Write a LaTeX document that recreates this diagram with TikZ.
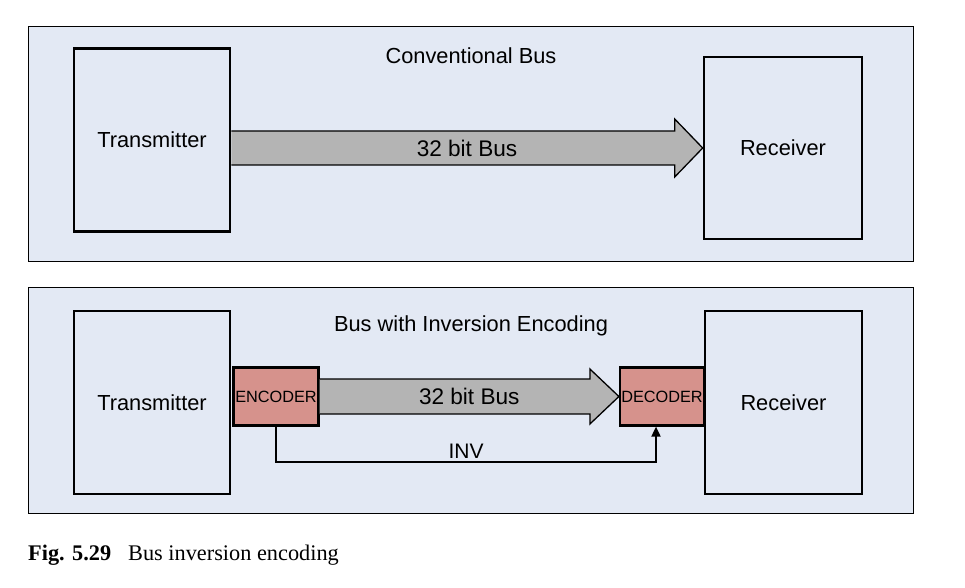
\documentclass[tikz,border=0pt]{standalone}
\usepackage{fontspec}
\setmainfont{Liberation Serif}
\setsansfont{Liberation Sans}
\usetikzlibrary{calc,arrows.meta}
\definecolor{panelbg}{RGB}{227,233,244}
\definecolor{busgray}{RGB}{180,180,180}
\definecolor{codecred}{RGB}{214,146,140}
\begin{document}
\begin{tikzpicture}[x=1pt,y=-1pt,
  panel/.style={draw,line width=.8pt,fill=panelbg},
  unit/.style={draw,line width=2.6pt,minimum width=156pt,minimum height=183pt,inner sep=0pt,font=\sffamily\fontsize{21.8}{25}\selectfont},
  codecbox/.style={draw,line width=2.2pt,fill=codecred,minimum width=85pt,minimum height=58pt,inner sep=0pt,font=\sffamily\fontsize{16.3}{18}\selectfont},
  bus/.style={draw,line width=1.3pt,fill=busgray,line join=miter},
  lbl/.style={font=\sffamily\fontsize{21.8}{25}\selectfont},
  buslbl/.style={font=\sffamily\fontsize{22.6}{26}\selectfont}]
\useasboundingbox (0,0) rectangle (965,588);
\draw[panel] (28,26) rectangle (913,261);
\draw[panel] (28,287) rectangle (913,513);
% conventional bus
\node[lbl] (title1) at (471,56) {Conventional Bus};
\node[unit] (tx1) at (152,140) {Transmitter};
\node[unit,minimum height=182pt,minimum width=158pt] (rx1) at (783,148) {Receiver};
\filldraw[bus] ($(tx1.east|-rx1.west)+(0,-17)$) -- ($(rx1.west)+(-28,-17)$) -- ($(rx1.west)+(-28,-29)$)
  -- (rx1.west) -- ($(rx1.west)+(-28,29)$) -- ($(rx1.west)+(-28,17)$) -- ($(tx1.east|-rx1.west)+(0,17)$);
\node[buslbl] (bus1) at ($(tx1.east|-rx1.west)!.5!(rx1.west)$) {32 bit Bus};
% bus with inversion encoding
\node[lbl] (title2) at (471,326) {Bus with Inversion Encoding};
\node[unit] (tx2) at (152,402.5) {Transmitter};
\node[unit,minimum width=157pt] (rx2) at (783.5,402.5) {Receiver};
\node[codecbox] (enc) at (276,396.5) {ENCODER};
\node[codecbox,minimum width=84pt] (dec) at (662,396.5) {DECODER};
\filldraw[bus] ($(enc.east)+(0,-17.5)$) -- ($(dec.west)+(-29,-17.5)$) -- ($(dec.west)+(-29,-27.5)$)
  -- (dec.west) -- ($(dec.west)+(-29,27.5)$) -- ($(dec.west)+(-29,17.5)$) -- ($(enc.east)+(0,17.5)$);
\node[buslbl] (bus2) at ($(enc.east)!.5!(dec.west)$) {32 bit Bus};
\draw[line width=1.8pt,-{Triangle[length=10pt,width=9pt]}] (enc.south) |- ($(dec.south)+(-6,35)$)
  node[lbl,font=\sffamily\fontsize{21}{25}\selectfont,pos=.75,above,inner sep=2pt] {INV} -- ($(dec.south)+(-6,0)$);
\node[anchor=base west,inner sep=0pt,font=\fontsize{22.3}{26}\selectfont] (cap) at (28,560) {\textbf{Fig. 5.29}\hspace{17pt}Bus inversion encoding};
\end{tikzpicture}
\end{document}
